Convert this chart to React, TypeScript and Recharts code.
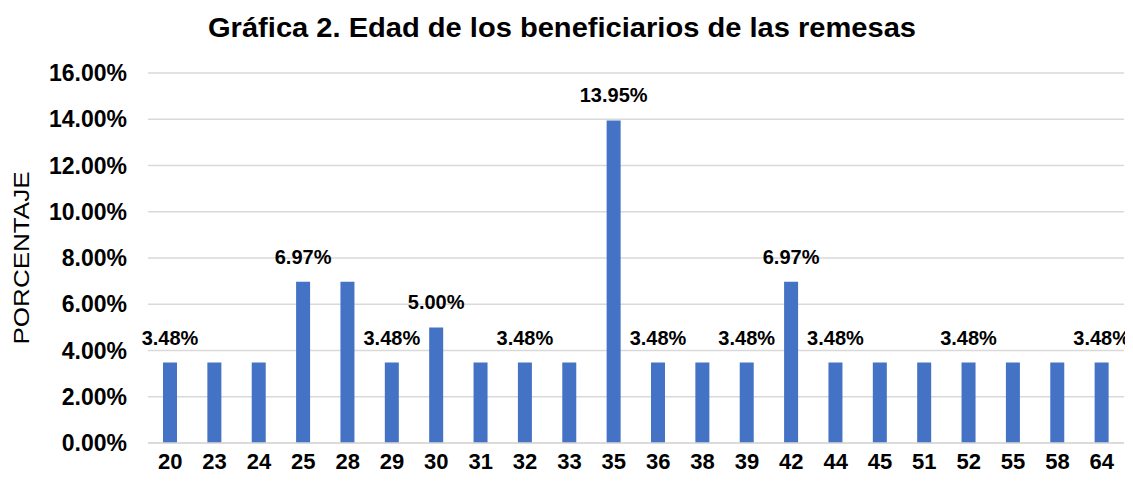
import React from 'react';
import { Bar, BarChart, CartesianGrid, LabelList, XAxis, YAxis } from 'recharts';

const categories = ['20', '23', '24', '25', '28', '29', '30', '31', '32', '33', '35', '36', '38', '39', '42', '44', '45', '51', '52', '55', '58', '64'];
const values = [3.48, 3.48, 3.48, 6.97, 6.97, 3.48, 5.0, 3.48, 3.48, 3.48, 13.95, 3.48, 3.48, 3.48, 6.97, 3.48, 3.48, 3.48, 3.48, 3.48, 3.48, 3.48];
// only some bars carry a visible label in the original
const labels = ['3.48%', '', '', '6.97%', '', '3.48%', '5.00%', '', '3.48%', '', '13.95%', '3.48%', '', '3.48%', '6.97%', '3.48%', '', '', '3.48%', '', '', '3.48%'];
const yTicks = [0, 2, 4, 6, 8, 10, 12, 14, 16];

const FONT = '"Liberation Sans", Arial, sans-serif';

const data = categories.map((age, i) => ({ age, value: values[i], label: labels[i] }));

const YTick = ({ x, y, payload }: any) => (
    <text x={x} y={y} dy={8} textAnchor="end" fontFamily={FONT} fontWeight="bold" fontSize={23} fill="#000">
        {`${Number(payload.value).toFixed(2)}%`}
    </text>
);

const XTick = ({ x, y, payload }: any) => (
    <text x={x} y={y} dy={18} textAnchor="middle" fontFamily={FONT} fontWeight="bold" fontSize={22} fill="#000">
        {payload.value}
    </text>
);

const BarLabel = ({ x, y, width, value }: any) => {
    if (!value) return null;
    return (
        <text x={x + width / 2} y={y - 18} textAnchor="middle" fontFamily={FONT} fontWeight="bold" fontSize={20} fill="#000">
            {value}
        </text>
    );
};

const YLabel = ({ viewBox }: any) => {
    const cx = 21;
    const cy = viewBox.y + viewBox.height / 2;
    return (
        <text
            x={cx}
            y={cy}
            dy={8}
            transform={`rotate(-90, ${cx}, ${cy})`}
            textAnchor="middle"
            fontFamily={FONT}
            fontSize={22}
            textLength={173}
            lengthAdjust="spacingAndGlyphs"
            fill="#000"
        >
            PORCENTAJE
        </text>
    );
};

export default function App() {
    return (
        <div style={{ position: 'relative', width: 1133, height: 484, margin: -8, background: '#fff' }}>
            <svg width={1133} height={60} style={{ position: 'absolute', left: 0, top: 0 }}>
                <text
                    x={562}
                    y={37}
                    textAnchor="middle"
                    fontFamily={FONT}
                    fontWeight="bold"
                    fontSize={27}
                    textLength={708}
                    lengthAdjust="spacingAndGlyphs"
                    fill="#000"
                >
                    Gráfica 2. Edad de los beneficiarios de las remesas
                </text>
            </svg>
            <BarChart width={1133} height={484} data={data} margin={{ top: 73, right: 9, bottom: 0, left: 0 }}>
                <CartesianGrid vertical={false} stroke="#d9d9d9" strokeWidth={1.5} />
                <XAxis
                    dataKey="age"
                    height={41}
                    tickLine={false}
                    axisLine={{ stroke: '#d9d9d9', strokeWidth: 1.5 }}
                    interval={0}
                    tick={<XTick />}
                />
                <YAxis
                    width={148}
                    domain={[0, 16]}
                    ticks={yTicks}
                    tickLine={false}
                    axisLine={false}
                    tickMargin={15}
                    tick={<YTick />}
                    label={<YLabel />}
                />
                <Bar dataKey="value" fill="#4472C4" barSize={14} isAnimationActive={false}>
                    <LabelList dataKey="label" content={<BarLabel />} />
                </Bar>
            </BarChart>
        </div>
    );
}
